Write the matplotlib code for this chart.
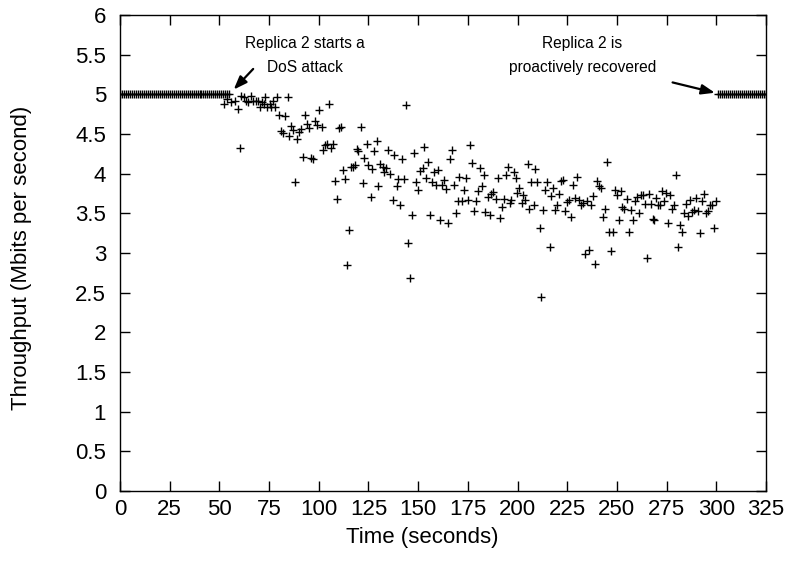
import matplotlib
matplotlib.use("Agg")
import matplotlib.pyplot as plt

plt.rcParams['font.family'] = ['Liberation Sans', 'DejaVu Sans']

# steady throughput before the attack (seconds, Mbit/s)
before_times = [0, 1, 2, 3, 4, 5, 6, 7, 8, 9, 10, 11, 12, 13, 14, 15, 16, 17, 18, 19,
                20, 21, 22, 23, 24, 25, 26, 27, 28, 29, 30, 31, 32, 33, 34, 35, 36, 37, 38, 39,
                40, 41, 42, 43, 44, 45, 46, 47, 48, 49, 50, 51, 52, 53, 54, 55]
before_values = [5.0, 5.0, 5.0, 5.0, 5.0, 5.0, 5.0, 5.0, 5.0, 5.0, 5.0, 5.0, 5.0, 5.0, 5.0, 5.0, 5.0, 5.0, 5.0, 5.0,
                 5.0, 5.0, 5.0, 5.0, 5.0, 5.0, 5.0, 5.0, 5.0, 5.0, 5.0, 5.0, 5.0, 5.0, 5.0, 5.0, 5.0, 5.0, 5.0, 5.0,
                 5.0, 5.0, 5.0, 5.0, 5.0, 5.0, 5.0, 5.0, 5.0, 5.0, 5.0, 5.0, 5.0, 5.0, 5.0, 5.0]

# throughput during the DoS attack
attack_times = [
    52.1, 53.8, 56.0, 57.7, 59.3, 60.2, 61.0, 62.2, 63.6, 64.4, 66.1, 66.9, 68.3, 69.4, 70.3,
    71.6, 72.3, 73.2, 74.0, 75.3, 76.2, 77.0, 77.9, 79.0, 80.0, 81.2, 82.0, 83.2, 84.3, 85.1,
    85.9, 87.1, 88.1, 89.1, 90.1, 91.3, 92.1, 93.1, 94.1, 95.2, 95.9, 97.2, 98.0, 99.2, 99.9,
    101.4, 102.2, 103.1, 103.9, 105.3, 106.1, 107.3, 108.1, 109.0, 110.3, 111.1, 112.0, 113.2, 114.0, 115.2,
    116.0, 117.0, 118.2, 119.1, 119.9, 121.1, 122.1, 122.9, 124.1, 124.9, 126.1, 127.0, 128.0, 129.2, 130.0,
    130.8, 132.2, 133.0, 133.9, 135.0, 135.9, 137.2, 137.9, 139.3, 140.1, 140.9, 142.1, 143.1, 143.9, 145.1,
    146.0, 147.1, 148.1, 149.0, 149.8, 150.7,
    152.4, 153.0, 154.0, 155.1, 156.1, 156.9, 158.1, 159.1, 159.9, 161.1, 162.0, 163.1, 164.1, 165.0, 166.2,
    167.0, 167.8, 169.0, 169.8, 170.8, 172.0, 172.9, 174.1, 175.1, 175.9, 177.1, 177.9, 179.1, 179.9, 180.9,
    182.0, 182.9, 183.8, 185.2, 186.0, 186.8, 187.7, 189.0, 190.0, 191.0, 192.0, 193.0, 194.1, 195.1, 196.1,
    196.9, 198.1, 199.1, 199.8, 200.8,
    202.0, 202.8, 204.0, 205.2, 206.0, 207.0, 208.2, 209.0, 209.9, 211.1, 211.9, 212.9, 213.9, 214.9, 216.1,
    216.9, 218.0, 219.0, 220.0, 221.0, 222.0, 223.0, 224.0, 225.0, 226.0, 227.0, 228.1, 229.1, 230.1, 231.1,
    232.1, 233.1, 234.1, 235.1, 236.1, 237.1, 238.1, 239.0, 240.2, 241.0, 242.0, 243.0, 244.0, 244.9, 245.9,
    246.9, 247.9, 248.9, 249.9, 250.8, 251.8,
    252.8, 253.6, 254.9, 256.0, 257.0, 258.0, 259.0, 260.0, 261.0, 262.0, 263.0, 264.0, 265.0, 266.0, 267.1,
    267.9, 268.7, 269.9, 270.9, 271.8, 272.8, 273.8, 274.8, 275.8, 276.8, 277.8, 278.8, 279.8, 280.8, 281.8,
    282.9, 283.9, 284.9, 285.9, 286.9, 287.9, 288.9, 289.9, 290.9, 291.9, 292.9, 294.0, 295.0, 296.0, 297.0,
    298.0, 299.0, 299.8,
]
attack_values = [
    4.88, 4.94, 4.90, 4.92, 4.81, 4.32, 4.98, 4.97, 4.92, 4.90, 4.98, 4.91, 4.91, 4.92, 4.84,
    4.90, 4.88, 4.97, 4.84, 4.88, 4.84, 4.92, 4.84, 4.97, 4.74, 4.54, 4.51, 4.73, 4.97, 4.47,
    4.60, 4.55, 3.89, 4.44, 4.52, 4.56, 4.21, 4.74, 4.62, 4.58, 4.20, 4.19, 4.67, 4.61, 4.80,
    4.59, 4.30, 4.36, 4.38, 4.88, 4.32, 4.38, 3.91, 3.68, 4.57, 4.59, 4.05, 3.93, 2.85, 3.29,
    4.08, 4.08, 4.11, 4.31, 4.28, 4.59, 3.88, 4.20, 4.38, 4.11, 3.71, 4.06, 4.28, 4.41, 3.84,
    4.12, 4.08, 4.02, 4.07, 4.30, 4.00, 3.67, 4.24, 3.84, 3.93, 3.61, 4.19, 3.93, 4.86, 3.13,
    2.69, 3.48, 4.26, 3.89, 3.80, 4.03,
    4.07, 4.33, 3.94, 4.15, 3.48, 3.89, 4.02, 3.86, 4.04, 3.41, 3.86, 3.92, 3.81, 3.38, 4.18,
    4.30, 3.86, 3.51, 3.65, 3.96, 3.66, 3.79, 3.94, 3.67, 4.36, 4.14, 3.53, 3.66, 3.78, 4.07,
    3.84, 3.98, 3.52, 3.71, 3.48, 3.75, 3.77, 3.68, 3.94, 3.44, 3.58, 3.68, 3.98, 4.08, 3.63,
    3.67, 4.02, 3.95, 3.76, 3.82,
    3.63, 3.73, 3.67, 4.12, 3.55, 3.89, 3.61, 4.06, 3.89, 3.32, 2.45, 3.54, 3.79, 3.89, 3.07,
    3.72, 3.82, 3.54, 3.61, 3.74, 3.91, 3.92, 3.53, 3.64, 3.67, 3.45, 3.86, 3.69, 3.96, 3.67,
    3.61, 3.63, 2.99, 3.65, 3.04, 3.61, 3.72, 2.86, 3.91, 3.85, 3.82, 3.46, 3.55, 4.15, 3.27,
    3.02, 3.27, 3.80, 3.73, 3.41, 3.78,
    3.58, 3.55, 3.68, 3.27, 3.54, 3.42, 3.66, 3.70, 3.50, 3.73, 3.73, 3.62, 2.94, 3.75, 3.62,
    3.43, 3.42, 3.69, 3.61, 3.61, 3.78, 3.66, 3.76, 3.38, 3.73, 3.55, 3.60, 3.98, 3.08, 3.35,
    3.27, 3.51, 3.62, 3.47, 3.67, 3.52, 3.54, 3.69, 3.53, 3.25, 3.66, 3.74, 3.50, 3.53, 3.61,
    3.61, 3.32, 3.66,
]

# steady throughput after proactive recovery
after_times = [301, 302, 303, 304, 305, 306, 307, 308, 309, 310, 311, 312, 313,
               314, 315, 316, 317, 318, 319, 320, 321, 322, 323, 324, 325]
after_values = [5.0, 5.0, 5.0, 5.0, 5.0, 5.0, 5.0, 5.0, 5.0, 5.0, 5.0, 5.0, 5.0,
                5.0, 5.0, 5.0, 5.0, 5.0, 5.0, 5.0, 5.0, 5.0, 5.0, 5.0, 5.0]

x_ticks = [0, 25, 50, 75, 100, 125, 150, 175, 200, 225, 250, 275, 300, 325]
y_ticks = [0, 0.5, 1, 1.5, 2, 2.5, 3, 3.5, 4, 4.5, 5, 5.5, 6]
y_tick_labels = ["0", "0.5", "1", "1.5", "2", "2.5", "3", "3.5", "4", "4.5", "5", "5.5", "6"]

W, H = 790, 567
fig = plt.figure(figsize=(W / 100, H / 100), dpi=100)
ax = fig.add_axes([120 / W, 1 - 491 / H, (766 - 120) / W, (491 - 15) / H])

mk = dict(linestyle='none', marker='+', markersize=5.5, markeredgewidth=1.0, color='black')
ax.plot(before_times, before_values, **mk)
ax.plot(attack_times, attack_values, **mk)
ax.plot(after_times, after_values, **mk)

ax.set_xlim(0, 325)
ax.set_ylim(0, 6)
ax.set_xticks(x_ticks)
ax.set_xticklabels([str(t) for t in x_ticks])
ax.set_yticks(y_ticks)
ax.set_yticklabels(y_tick_labels)
ax.tick_params(direction='in', top=True, right=True, length=7, width=1,
               labelsize=16, colors='black')
ax.tick_params(axis='x', pad=6)
ax.tick_params(axis='y', pad=10)
for s in ax.spines.values():
    s.set_linewidth(1.0)

fig.text(422 / W, 1 - 538 / H, "Time (seconds)", fontsize=16, ha='center', va='center')
fig.text(22 / W, 1 - 258 / H, "Throughput (Mbits per second)", fontsize=16,
         ha='center', va='center', rotation=90)

ax.text(93, 5.49, "Replica 2 starts a\nDoS attack", ha='center', va='center',
        fontsize=11.2, linespacing=1.75)
ax.annotate("", xy=(57.2, 5.06), xytext=(67.0, 5.32),
            arrowprops=dict(arrowstyle='-|>,head_length=0.8,head_width=0.3',
                            color='black', lw=1.6, shrinkA=0, shrinkB=0))
ax.text(232.5, 5.49, "Replica 2 is\nproactively recovered", ha='center', va='center',
        fontsize=11.2, linespacing=1.75)
ax.annotate("", xy=(299.3, 5.02), xytext=(278.0, 5.15),
            arrowprops=dict(arrowstyle='-|>,head_length=0.8,head_width=0.3',
                            color='black', lw=1.6, shrinkA=0, shrinkB=0))

fig.savefig("out.png", dpi=100)
